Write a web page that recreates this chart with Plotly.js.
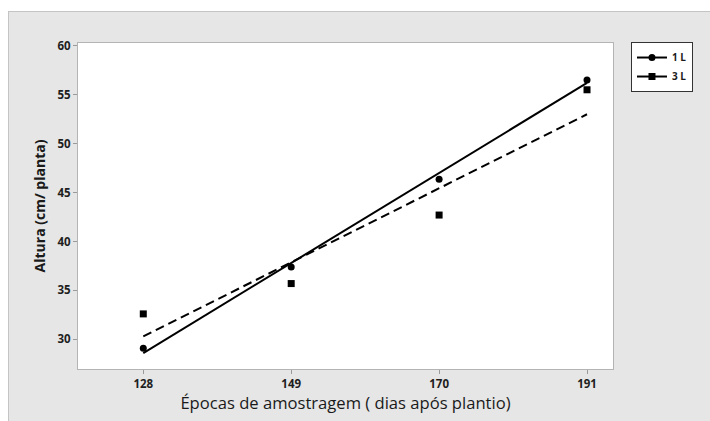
<!DOCTYPE html>
<html>
<head>
<meta charset="utf-8">
<script src="https://cdn.plot.ly/plotly-3.0.1.min.js"></script>
<style>
html,body{margin:0;padding:0;background:#ffffff;width:710px;height:421px;overflow:hidden;}
#frame{position:absolute;left:8px;top:11px;width:702px;height:410px;border-left:1px solid #c4c4c4;border-top:1px solid #c4c4c4;background:#e6e6e6;}
#chart{width:701px;height:409px;}
</style>
</head>
<body>
<div id="frame"><div id="chart"></div></div>
<script>
// Data
const days = [128, 149, 170, 191];
const altura1L = [29.1, 37.4, 46.35, 56.5];
const altura3L = [32.6, 35.7, 42.7, 55.5];
// Fitted regression lines (endpoints)
const fitDays = [128, 191];
const fit1L = [28.6, 56.2];
const fit3L = [30.3, 53.0];
const seriesNames = ['1 L', '3 L'];
const xTicks = [128, 149, 170, 191];
const yTicks = [30, 35, 40, 45, 50, 55, 60];

const traces = [
  {x: fitDays, y: fit1L, mode: 'lines', line: {color: '#000', width: 2}, showlegend: false, hoverinfo: 'skip'},
  {x: fitDays, y: fit3L, mode: 'lines', line: {color: '#000', width: 2, dash: '9px,5px'}, showlegend: false, hoverinfo: 'skip'},
  {x: days, y: altura1L, mode: 'markers', marker: {symbol: 'circle', size: 7, color: '#000'}, showlegend: false},
  {x: days, y: altura3L, mode: 'markers', marker: {symbol: 'square', size: 7, color: '#000'}, showlegend: false},
  {x: [null], y: [null], name: seriesNames[0], mode: 'lines+markers', line: {color: '#000', width: 2}, marker: {symbol: 'circle', size: 7, color: '#000'}},
  {x: [null], y: [null], name: seriesNames[1], mode: 'lines+markers', line: {color: '#000', width: 2}, marker: {symbol: 'square', size: 7, color: '#000'}}
];

const axisCommon = {
  showgrid: false, zeroline: false, showline: true, linecolor: '#b4b4b4', linewidth: 1, mirror: true,
  ticks: 'outside', ticklen: 4, tickcolor: '#9a9a9a',
  tickfont: {family: 'Open Sans, sans-serif', size: 11.5, color: '#1e1e1e', weight: 'bold'}
};

const layout = {
  width: 701, height: 409,
  paper_bgcolor: '#e6e6e6', plot_bgcolor: '#ffffff',
  margin: {l: 69, r: 97, t: 31, b: 52},
  xaxis: Object.assign({}, axisCommon, {
    range: [118.73, 194.69], tickvals: xTicks, ticktext: xTicks.map(String),
    title: {text: 'Épocas de amostragem ( dias após plantio)', standoff: 3,
      font: {family: 'Open Sans, sans-serif', size: 16.6, color: '#1a1a1a'}}
  }),
  yaxis: Object.assign({}, axisCommon, {
    range: [26.97, 60.28], tickvals: yTicks, ticktext: yTicks.map(String),
    title: {text: 'Altura (cm/ planta)', standoff: 8,
      font: {family: 'Open Sans, sans-serif', size: 14, color: '#1a1a1a', weight: 'bold'}}
  }),
  legend: {
    x: 1.0336, y: 1.003, xanchor: 'left', yanchor: 'top',
    bgcolor: '#ffffff', bordercolor: '#333', borderwidth: 1,
    font: {family: 'Open Sans, sans-serif', size: 10, color: '#1a1a1a', weight: 'bold'},
    tracegroupgap: 0, itemwidth: 30
  },
  showlegend: true
};

Plotly.newPlot('chart', traces, layout, {displayModeBar: false, staticPlot: true});
</script>
</body>
</html>
